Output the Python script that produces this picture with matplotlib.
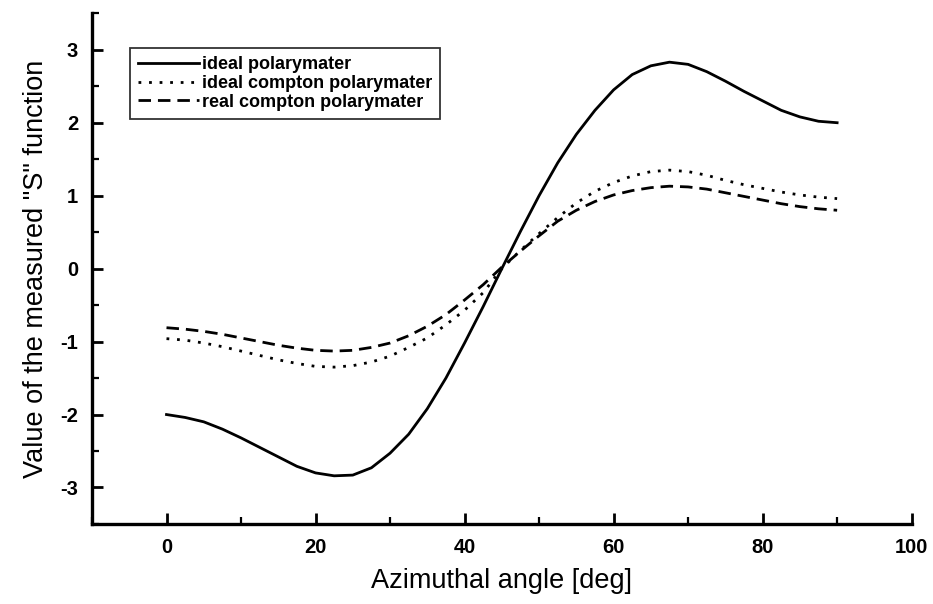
import numpy as np
import matplotlib
matplotlib.use("Agg")
import matplotlib.pyplot as plt

plt.rcParams['font.family'] = ['Liberation Sans', 'DejaVu Sans']
plt.rcParams['axes.unicode_minus'] = False

# krok 2.5 stopnia
angle = np.arange(0, 90.1, 2.5)
ideal = [-2.0, -2.04, -2.1, -2.2, -2.32, -2.45, -2.58, -2.71, -2.8, -2.84,
         -2.83, -2.73, -2.53, -2.27, -1.92, -1.5, -1.02, -0.52, 0.0,
         0.51, 1.0, 1.45, 1.84, 2.17, 2.45, 2.66, 2.78, 2.83, 2.8,
         2.7, 2.57, 2.43, 2.3, 2.17, 2.08, 2.02, 2.0]
ideal_compton = [-0.96, -0.98, -1.02, -1.07, -1.13, -1.19, -1.25, -1.3, -1.34, -1.35,
                 -1.33, -1.28, -1.2, -1.08, -0.95, -0.77, -0.57, -0.33, 0.0,
                 0.25, 0.48, 0.7, 0.9, 1.06, 1.18, 1.27, 1.33, 1.35, 1.33,
                 1.28, 1.21, 1.15, 1.1, 1.05, 1.01, 0.98, 0.96]
real_compton = [-0.81, -0.83, -0.86, -0.9, -0.95, -1.0, -1.05, -1.09, -1.12, -1.13,
                -1.12, -1.08, -1.02, -0.92, -0.79, -0.63, -0.43, -0.22, 0.02,
                0.24, 0.45, 0.65, 0.8, 0.92, 1.01, 1.07, 1.11, 1.13, 1.12,
                1.09, 1.04, 0.99, 0.94, 0.89, 0.85, 0.82, 0.8]
labels = ["ideal polarymater", "ideal compton polarymater", "real compton polarymater"]

fig = plt.figure(figsize=(9.33, 6.04), dpi=100)
ax = fig.add_axes([0.0986, 0.1325, 0.8785, 0.8455])

ax.plot(angle, ideal, color="black", lw=2.0, ls="-", label=labels[0])
ax.plot(angle, ideal_compton, color="black", lw=2.0, ls=(0, (1, 2.8)), label=labels[1])
ax.plot(angle, real_compton, color="black", lw=2.0, ls=(0, (4.5, 2.5)), label=labels[2])

ax.set_xlim(-10, 100)
ax.set_ylim(-3.5, 3.5)
ax.set_xticks(np.arange(0, 101, 20))
ax.set_xticks(np.arange(-10, 101, 10), minor=True)
ax.set_yticks(np.arange(-3, 4, 1))
ax.set_yticks(np.arange(-3.5, 3.6, 0.5), minor=True)

for s in ["top", "right"]:
    ax.spines[s].set_visible(False)
for s in ["left", "bottom"]:
    ax.spines[s].set_linewidth(2.4)

ax.tick_params(which="major", direction="in", length=8, width=2.0, labelsize=14.5, pad=10)
ax.tick_params(which="minor", direction="in", length=5, width=1.6)
for t in ax.get_xticklabels() + ax.get_yticklabels():
    t.set_fontweight("bold")

ax.set_xlabel("Azimuthal angle [deg]", fontsize=19.5, labelpad=8)
ax.set_ylabel('Value of the measured "S" function', fontsize=19.5, labelpad=8)

leg = ax.legend(loc="upper left", bbox_to_anchor=(0.046, 0.932), borderaxespad=0,
                frameon=True, fancybox=False, edgecolor="black", handlelength=3.4,
                handletextpad=0.15, borderpad=0.45, labelspacing=0.1,
                prop={"size": 13, "weight": "bold"})
leg.get_frame().set_linewidth(1.3)

fig.savefig("out.png", dpi=100)
